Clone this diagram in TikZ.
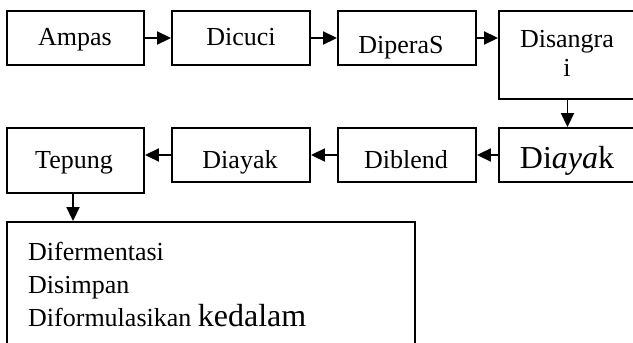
\documentclass[tikz,border=0pt]{standalone}
\usepackage{fontspec}
\setmainfont{Liberation Serif}
\usetikzlibrary{arrows.meta}
\begin{document}
\begin{tikzpicture}[x=1pt,y=-1pt,
  box/.style={draw, line width=1.9pt, inner sep=0pt},
  txt/.style={inner sep=0pt, anchor=base, font=\fontsize{26}{30}\selectfont},
  ltxt/.style={txt, anchor=base west},
  flow/.style={line width=1.9pt, -{Triangle[length=14pt,width=13pt]}}]
\useasboundingbox (0,0) rectangle (633,343);
\clip (0,0) rectangle (633,343);
% boxes
\node[box, minimum width=137pt, minimum height=54pt] (ampas) at (75.5,38) {};
\node[box, minimum width=138pt, minimum height=54pt] (dicuci) at (241,38) {};
\node[box, minimum width=138pt, minimum height=54pt] (diperas) at (407,38) {};
\node[box, minimum width=137pt, minimum height=88pt] (sangrai) at (567.5,55) {};
\node[box, minimum width=137pt, minimum height=65pt] (tepung) at (75.5,160.5) {};
\node[box, minimum width=138pt, minimum height=54pt] (diayakA) at (241,155) {};
\node[box, minimum width=138pt, minimum height=54pt] (diblend) at (407,155) {};
\node[box, minimum width=137pt, minimum height=54pt] (diayakB) at (567.5,155) {};
\node[box, minimum width=408pt, minimum height=140pt] (result) at (211,292) {};
% texts
\node[txt] (tAmpas) at (75,45) {Ampas};
\node[txt] (tDicuci) at (241,45) {Dicuci};
\node[txt] (tDiperas) at (401,53) {DiperaS};
\node[txt] (tSangraiA) at (567,47) {Disangra};
\node[txt] (tSangraiB) at (567,76) {i};
\node[txt] (tTepung) at (74,168) {Tepung};
\node[txt] (tDiayakA) at (240,168) {Diayak};
\node[txt] (tDiblend) at (406,168) {Diblend};
\node[txt, font=\fontsize{32}{36}\selectfont] (tDiayakB) at (567,168) {Di\textit{aya}k};
\node[ltxt] (tFerm) at (28,260) {Difermentasi};
\node[ltxt] (tSimpan) at (28,293) {Disimpan};
\node[ltxt] (tFormul) at (28,326) {Diformulasikan {\fontsize{32}{36}\selectfont kedalam}};
% connectors
\draw[flow] (ampas.east) -- (dicuci.west);
\draw[flow] (dicuci.east) -- (diperas.west);
\draw[flow] (diperas.east) -- (diperas.east -| sangrai.west);
\draw[flow] (sangrai.south) -- (diayakB.north);
\draw[flow] (diayakB.west) -- (diblend.east);
\draw[flow] (diblend.west) -- (diayakA.east);
\draw[flow] (diayakA.west) -- (diayakA.west -| tepung.east);
\draw[flow] ([xshift=-2.5pt]tepung.south) -- ([xshift=-2.5pt]tepung.south |- result.north);
\end{tikzpicture}
\end{document}
